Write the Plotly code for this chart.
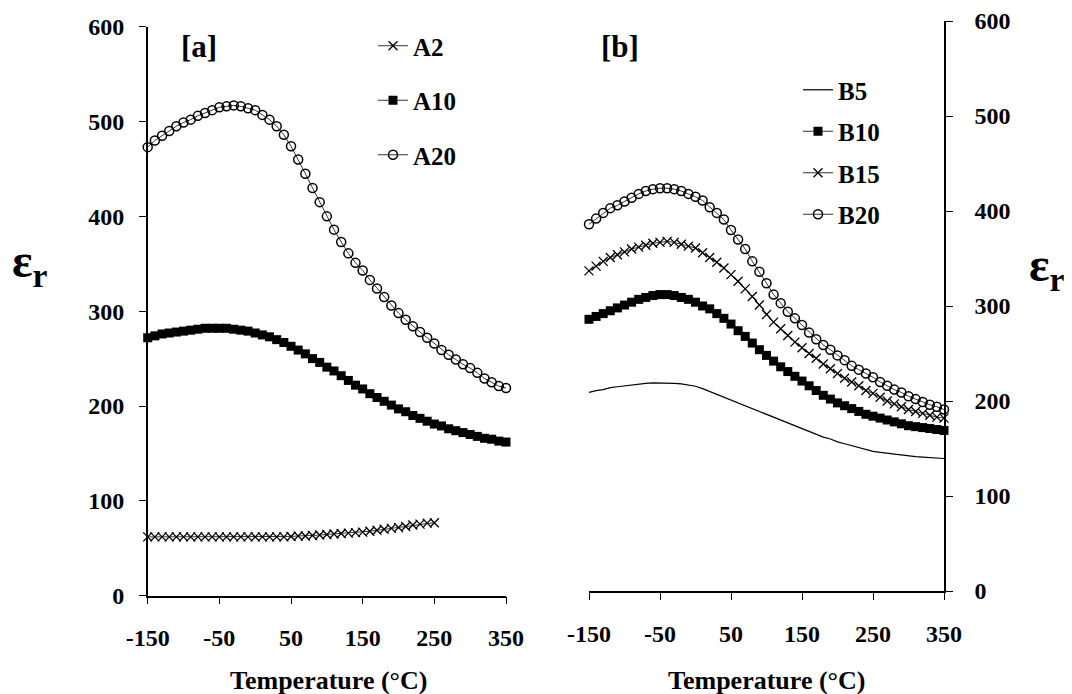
import plotly.graph_objects as go

# ---------------- data ----------------
temp_a = list(range(-150, 351, 10))
temp_a2 = list(range(-150, 251, 10))
temp_b = list(range(-150, 351, 10))

a2 = [62, 62, 62, 62, 62, 62, 62, 62, 62, 62, 62, 62, 62, 62, 62, 62, 62, 62, 62, 62,
      62.5, 63, 63, 63.5, 64, 64.5, 65, 65.5, 66, 66.5, 67, 68, 69, 70, 71, 72, 73, 74.5,
      75.5, 76.5, 77]
a10 = [272, 274, 276, 277, 278, 279, 280, 281, 282, 282, 282, 282, 281, 280, 279, 277,
       275, 273, 270, 267, 263, 259, 255, 250, 246, 241, 237, 232, 227, 222, 218, 213,
       209, 205, 201, 197, 194, 190, 187, 184, 181, 179, 176, 174, 172, 170, 168, 166,
       165, 163, 162]
a20 = [473, 480, 485, 490, 495, 499, 502, 506, 509, 512, 515, 516, 517, 516, 514, 512,
       507, 502, 495, 486, 474, 460, 445, 430, 415, 400, 386, 373, 361, 351, 343, 333,
       324, 315, 306, 298, 291, 284, 278, 272, 266, 259, 254, 249, 244, 240, 235, 229,
       225, 221, 219]

b5 = [209, 211, 212, 214, 215, 216, 217, 218, 218.5, 219, 219, 219, 218.5, 218, 217,
      215.5, 213, 210, 207, 204, 201, 198, 195, 192, 189, 186, 183, 180, 177, 174, 171,
      168, 165, 162, 160, 157, 155, 153, 151, 149, 147, 146, 145, 144, 143, 142, 141.5,
      141, 140.5, 140, 139.5]
b10 = [286, 289, 292, 295, 298, 301, 304, 307, 309, 311, 312, 312, 311, 309, 307, 304,
       300, 297, 292, 287, 281, 274, 268, 261, 254, 248, 242, 236, 231, 226, 221, 216,
       211, 206, 202, 198, 195, 192, 189, 186, 184, 182, 180, 178, 176, 174, 173, 172,
       171, 170, 169]
b15 = [337, 342, 347, 351, 354, 357, 360, 362, 364, 366, 367, 368, 367, 365, 363, 361,
       356, 351, 346, 340, 333, 326, 318, 310, 301, 291, 283, 276, 269, 262, 256, 250,
       245, 239, 234, 229, 224, 220, 216, 211, 208, 204, 200, 197, 194, 191, 189, 187,
       185, 183, 182]
b20 = [386, 392, 398, 403, 406, 410, 414, 418, 421, 423, 424, 424, 423, 421, 418, 415,
       411, 404, 398, 391, 380, 370, 360, 347, 336, 324, 312, 303, 294, 287, 280, 272,
       265, 259, 254, 248, 243, 237, 233, 229, 225, 220, 216, 212, 209, 205, 202, 199,
       196, 194, 191]

x_ticks = [-150, -50, 50, 150, 250, 350]
x_tick_labels = ["-150", "-50", "50", "150", "250", "350"]
y_ticks = [0, 100, 200, 300, 400, 500, 600]
y_tick_labels = ["0", "100", "200", "300", "400", "500", "600"]

# ---------------- figure ----------------
W, H = 1072, 694
OFF = 8  # page body margin
FONT = "Liberation Serif"
fig = go.Figure()

line_w = 0.8
circle = dict(symbol="circle-open", size=9, color="black", line=dict(width=1.5, color="black"))
square = dict(symbol="square", size=9, color="black")
cross = dict(symbol="x-thin-open", size=9, color="black", line=dict(width=1.3, color="black"))

fig.add_trace(go.Scatter(x=temp_a2, y=a2, name="A2", mode="lines+markers", marker=cross,
                         line=dict(color="black", width=line_w), xaxis="x", yaxis="y",
                         legend="legend", legendgroup="a2", cliponaxis=False))
fig.add_trace(go.Scatter(x=temp_a, y=a10, name="A10", mode="lines+markers", marker=square,
                         line=dict(color="black", width=line_w), xaxis="x", yaxis="y",
                         legend="legend", legendgroup="a10", cliponaxis=False))
fig.add_trace(go.Scatter(x=temp_a, y=a20, name="A20", mode="lines+markers", marker=circle,
                         line=dict(color="black", width=line_w), xaxis="x", yaxis="y",
                         legend="legend", legendgroup="a20", cliponaxis=False))

fig.add_trace(go.Scatter(x=temp_b, y=b5, name="B5", mode="lines",
                         line=dict(color="black", width=1.2), xaxis="x2", yaxis="y2",
                         legend="legend2", legendgroup="b5", cliponaxis=False))
fig.add_trace(go.Scatter(x=temp_b, y=b10, name="B10", mode="lines+markers", marker=square,
                         line=dict(color="black", width=line_w), xaxis="x2", yaxis="y2",
                         legend="legend2", legendgroup="b10", cliponaxis=False))
fig.add_trace(go.Scatter(x=temp_b, y=b15, name="B15", mode="lines+markers", marker=cross,
                         line=dict(color="black", width=line_w), xaxis="x2", yaxis="y2",
                         legend="legend2", legendgroup="b15", cliponaxis=False))
fig.add_trace(go.Scatter(x=temp_b, y=b20, name="B20", mode="lines+markers", marker=circle,
                         line=dict(color="black", width=line_w), xaxis="x2", yaxis="y2",
                         legend="legend2", legendgroup="b20", cliponaxis=False))

tickfont = dict(family=FONT, size=24, color="black", weight="bold")
axis_common = dict(showgrid=False, zeroline=False, showline=True, linecolor="black",
                   linewidth=1.5, ticks="outside", ticklen=7, tickwidth=1.2,
                   tickcolor="black", tickfont=tickfont, automargin=False)

def px_x(p):
    return (p - OFF) / W

def px_y(p):
    return 1 - (p - OFF) / H

fig.update_layout(
    width=W, height=H,
    margin=dict(l=0, r=0, t=0, b=0, autoexpand=False),
    paper_bgcolor="white", plot_bgcolor="white",
    font=dict(family=FONT, color="black"),
    xaxis=dict(domain=[px_x(147.7), px_x(506)], range=[-150, 350], tickvals=x_ticks,
               ticktext=x_tick_labels, anchor="y", ticklabelstandoff=13, **axis_common),
    yaxis=dict(domain=[px_y(595.7), px_y(26.7)], range=[0, 600], tickvals=y_ticks,
               ticktext=y_tick_labels, anchor="x", ticklabelstandoff=10, **axis_common),
    xaxis2=dict(domain=[px_x(589), px_x(944)], range=[-150, 350], tickvals=x_ticks,
                ticktext=x_tick_labels, anchor="y2", ticklabelstandoff=13, **axis_common),
    yaxis2=dict(domain=[px_y(591), px_y(21)], range=[0, 600], tickvals=y_ticks,
                ticktext=y_tick_labels, anchor="x2", side="right", ticklabelstandoff=17,
                **axis_common),
    legend=dict(x=px_x(373), y=px_y(23), xanchor="left", yanchor="top",
                bgcolor="rgba(0,0,0,0)", tracegroupgap=19, itemwidth=30,
                font=dict(family=FONT, size=25, color="black", weight="bold")),
    legend2=dict(x=px_x(798), y=px_y(67), xanchor="left", yanchor="top",
                 bgcolor="rgba(0,0,0,0)", tracegroupgap=6, itemwidth=30,
                 font=dict(family=FONT, size=25, color="black", weight="bold")),
    showlegend=True,
)

bold_font = lambda s: dict(family=FONT, size=s, color="black", weight="bold")

def label(text, x, y, font):
    fig.add_annotation(text=text, x=px_x(x), y=px_y(y), xref="paper", yref="paper",
                       xanchor="center", yanchor="middle", showarrow=False, font=font)

label("[a]", 199, 47, bold_font(31))
label("[b]", 620, 47, bold_font(31))
label("Temperature (°C)", 328, 680, bold_font(26))
label("Temperature (°C)", 766, 680, bold_font(26))
label("ε<sub>r</sub>", 30, 264, bold_font(48))
label("ε<sub>r</sub>", 1047, 268, bold_font(48))

fig.write_html("out.html")
